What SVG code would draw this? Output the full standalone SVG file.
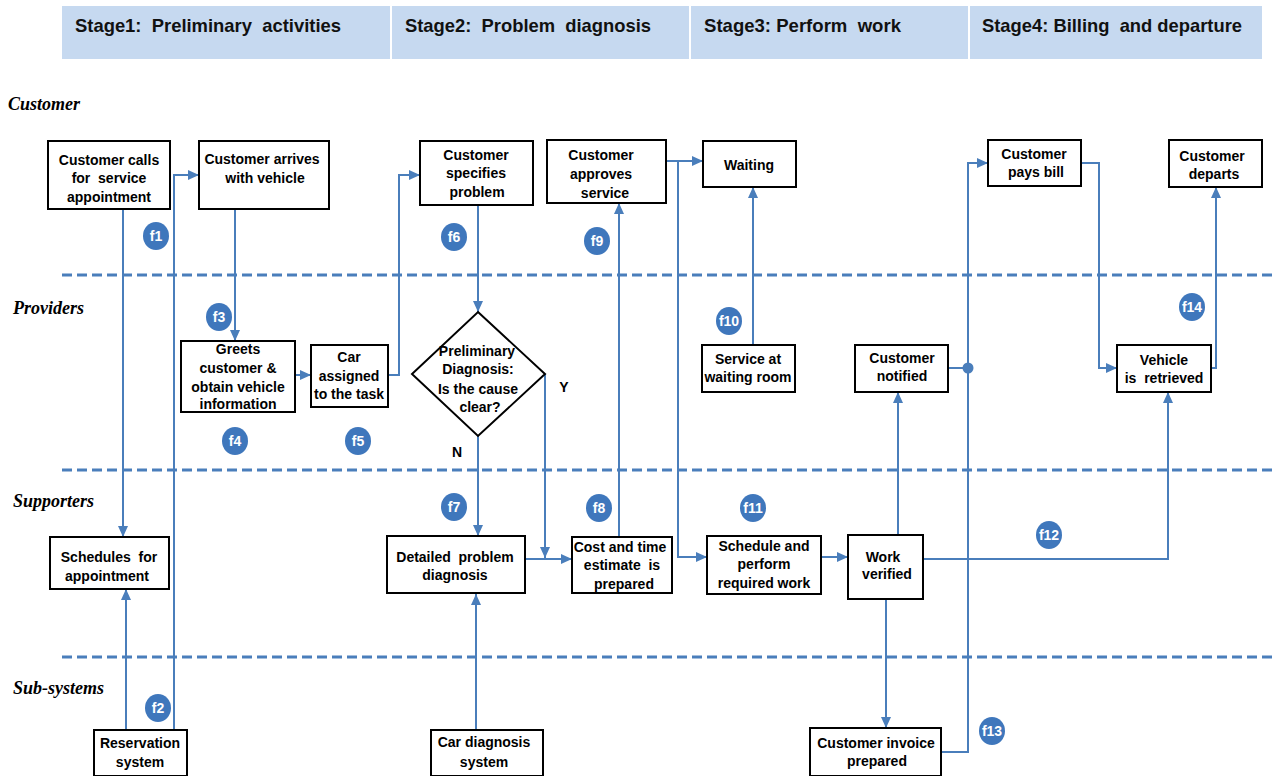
<svg xmlns="http://www.w3.org/2000/svg" width="1276" height="776" viewBox="0 0 1276 776">
<style>
.hdr{fill:#C6D9F0}
.ht{font-family:"Liberation Sans",Arial,sans-serif;font-weight:bold;font-size:19px;fill:#111;white-space:pre}
.lane{font-family:"Liberation Serif","Times New Roman",serif;font-weight:bold;font-style:italic;font-size:18px;fill:#000}
.sep{stroke:#4A7EBB;stroke-width:3;stroke-dasharray:10 5;fill:none}
.box{fill:#fff;stroke:#000;stroke-width:2}
.t{font-family:"Liberation Sans",Arial,sans-serif;font-weight:bold;font-size:14px;fill:#000;text-anchor:middle;white-space:pre}
.c{fill:none;stroke:#4A7EBB;stroke-width:2}
.a{marker-end:url(#arr)}
.b{fill:#3F77BC}
.bt{font-family:"Liberation Sans",Arial,sans-serif;font-weight:bold;font-size:14px;fill:#fff;text-anchor:middle}
</style>
<defs>
<marker id="arr" markerUnits="userSpaceOnUse" markerWidth="11" markerHeight="10" refX="11" refY="5" orient="auto">
<path d="M0,0 L11,5 L0,10 z" fill="#4A7EBB"/>
</marker>
</defs>
<rect width="1276" height="776" fill="#fff"/>
<g id="header">
<rect class="hdr" x="62" y="6" width="328" height="53"/>
<rect class="hdr" x="392" y="6" width="297" height="53"/>
<rect class="hdr" x="691" y="6" width="277" height="53"/>
<rect class="hdr" x="970" y="6" width="292" height="53"/>
<text class="ht" x="75" y="32" textLength="266" lengthAdjust="spacingAndGlyphs">Stage1:  Preliminary  activities</text>
<text class="ht" x="405" y="32" textLength="246" lengthAdjust="spacingAndGlyphs">Stage2:  Problem  diagnosis</text>
<text class="ht" x="704" y="32" textLength="197" lengthAdjust="spacingAndGlyphs">Stage3: Perform  work</text>
<text class="ht" x="982" y="32" textLength="260" lengthAdjust="spacingAndGlyphs">Stage4: Billing  and departure</text>
</g>
<g id="lanes">
<text class="lane" x="8" y="110">Customer</text>
<text class="lane" x="13" y="314">Providers</text>
<text class="lane" x="13" y="507">Supporters</text>
<text class="lane" x="13" y="694">Sub-systems</text>
<line class="sep" x1="62" y1="275" x2="1276" y2="275"/>
<line class="sep" x1="62" y1="470" x2="1276" y2="470"/>
<line class="sep" x1="62" y1="657" x2="1276" y2="657"/>
</g>
<g id="connectors">
<path class="c a" d="M123,209 V537"/>
<path class="c a" d="M126,730 V589"/>
<path class="c a" d="M174,730 V175 H199"/>
<path class="c a" d="M235,209 V341"/>
<path class="c a" d="M295,375 H311"/>
<path class="c a" d="M388,375 H399 V175 H420"/>
<path class="c a" d="M478,205 V312"/>
<path class="c a" d="M478,436 V536"/>
<path class="c a" d="M545,374 V558"/>
<path class="c a" d="M525,559 H572"/>
<path class="c a" d="M476,730 V594"/>
<path class="c a" d="M619,537 V203"/>
<path class="c a" d="M666,161 H703"/>
<path class="c a" d="M678,161 V557 H707"/>
<path class="c a" d="M753,345 V187"/>
<path class="c a" d="M821,557 H848"/>
<path class="c a" d="M898,535 V392"/>
<path class="c a" d="M886,599 V728"/>
<path class="c a" d="M923,559 H1168 V392"/>
<path class="c a" d="M941,752 H968 V163 H988"/>
<path class="c" d="M948,368 H968"/>
<circle cx="968" cy="368" r="5.5" fill="#4A7EBB"/>
<path class="c a" d="M1081,163 H1099 V368 H1117"/>
<path class="c a" d="M1211,368 H1216 V187"/>
</g>
<g id="n1"><rect class="box" x="48" y="141" width="122" height="68"/><text class="t" x="109" y="165">Customer calls</text><text class="t" x="109" y="183">for  service</text><text class="t" x="109" y="202">appointment</text></g>
<g id="n2"><rect class="box" x="199" y="141" width="130" height="68"/><text class="t" x="262" y="164">Customer arrives</text><text class="t" x="265" y="183">with vehicle</text></g>
<g id="n3"><rect class="box" x="181" y="341" width="114" height="71"/><text class="t" x="238" y="354">Greets</text><text class="t" x="238" y="373">customer &amp;</text><text class="t" x="238" y="392">obtain vehicle</text><text class="t" x="238" y="409">information</text></g>
<g id="n4"><rect class="box" x="311" y="345" width="77" height="62"/><text class="t" x="349" y="362">Car</text><text class="t" x="349" y="381">assigned</text><text class="t" x="349" y="399">to the task</text></g>
<g id="n5"><rect class="box" x="420" y="141" width="113" height="64"/><text class="t" x="476" y="160">Customer</text><text class="t" x="476" y="178">specifies</text><text class="t" x="477" y="197">problem</text></g>
<g id="n6"><rect class="box" x="547" y="140" width="119" height="63"/><text class="t" x="601" y="160">Customer</text><text class="t" x="601" y="179">approves</text><text class="t" x="605" y="198">service</text></g>
<g id="n7"><rect class="box" x="703" y="141" width="93" height="46"/><text class="t" x="749" y="170">Waiting</text></g>
<g id="n8"><polygon class="box" points="478,312 545,374 478,436 412,374"/><text class="t" x="477" y="356">Preliminary</text><text class="t" x="478" y="374">Diagnosis:</text><text class="t" x="478" y="394">Is the cause</text><text class="t" x="480" y="412">clear?</text></g>
<g id="lblY"><text class="t" x="564" y="392">Y</text></g>
<g id="lblN"><text class="t" x="457" y="457">N</text></g>
<g id="n9"><rect class="box" x="702" y="345" width="93" height="47"/><text class="t" x="748" y="364">Service at</text><text class="t" x="748" y="382">waiting room</text></g>
<g id="n10"><rect class="box" x="988" y="140" width="93" height="46"/><text class="t" x="1034" y="159">Customer</text><text class="t" x="1036" y="177">pays bill</text></g>
<g id="n11"><rect class="box" x="1169" y="140" width="93" height="47"/><text class="t" x="1212" y="161">Customer</text><text class="t" x="1214" y="179">departs</text></g>
<g id="n12"><rect class="box" x="855" y="345" width="93" height="47"/><text class="t" x="902" y="363">Customer</text><text class="t" x="902" y="381">notified</text></g>
<g id="n13"><rect class="box" x="1117" y="345" width="94" height="47"/><text class="t" x="1164" y="365">Vehicle</text><text class="t" x="1164" y="383">is  retrieved</text></g>
<g id="n14"><rect class="box" x="50" y="537" width="119" height="52"/><text class="t" x="109" y="562">Schedules  for</text><text class="t" x="107" y="581">appointment</text></g>
<g id="n15"><rect class="box" x="94" y="730" width="93" height="46"/><text class="t" x="140" y="748">Reservation</text><text class="t" x="140" y="767">system</text></g>
<g id="n16"><rect class="box" x="387" y="536" width="138" height="57"/><text class="t" x="455" y="562">Detailed  problem</text><text class="t" x="455" y="580">diagnosis</text></g>
<g id="n17"><rect class="box" x="572" y="537" width="100" height="56"/><text class="t" x="620" y="552">Cost and time</text><text class="t" x="622" y="570">estimate  is</text><text class="t" x="624" y="589">prepared</text></g>
<g id="n18"><rect class="box" x="707" y="536" width="114" height="58"/><text class="t" x="764" y="551">Schedule and</text><text class="t" x="764" y="569">perform</text><text class="t" x="764" y="588">required work</text></g>
<g id="n19"><rect class="box" x="431" y="730" width="112" height="46"/><text class="t" x="484" y="747">Car diagnosis</text><text class="t" x="484" y="767">system</text></g>
<g id="n20"><rect class="box" x="848" y="535" width="75" height="64"/><text class="t" x="883" y="562">Work</text><text class="t" x="887" y="579">verified</text></g>
<g id="n21"><rect class="box" x="810" y="728" width="131" height="48"/><text class="t" x="876" y="748">Customer invoice</text><text class="t" x="877" y="766">prepared</text></g>
<g id="badges">
<g id="f1"><ellipse class="b" cx="156" cy="236" rx="13" ry="14"/><text class="bt" x="156" y="241">f1</text></g>
<g id="f2"><ellipse class="b" cx="158" cy="708" rx="13" ry="14"/><text class="bt" x="158" y="713">f2</text></g>
<g id="f3"><ellipse class="b" cx="219" cy="317" rx="13" ry="14"/><text class="bt" x="219" y="322">f3</text></g>
<g id="f4"><ellipse class="b" cx="235" cy="441" rx="13" ry="14"/><text class="bt" x="235" y="446">f4</text></g>
<g id="f5"><ellipse class="b" cx="358" cy="441" rx="13" ry="14"/><text class="bt" x="358" y="446">f5</text></g>
<g id="f6"><ellipse class="b" cx="454" cy="237" rx="13" ry="14"/><text class="bt" x="454" y="242">f6</text></g>
<g id="f7"><ellipse class="b" cx="454" cy="507" rx="13" ry="14"/><text class="bt" x="454" y="512">f7</text></g>
<g id="f8"><ellipse class="b" cx="599" cy="508" rx="13" ry="14"/><text class="bt" x="599" y="513">f8</text></g>
<g id="f9"><ellipse class="b" cx="597" cy="241" rx="13" ry="14"/><text class="bt" x="597" y="246">f9</text></g>
<g id="f10"><ellipse class="b" cx="729" cy="321" rx="13" ry="14"/><text class="bt" x="729" y="326">f10</text></g>
<g id="f11"><ellipse class="b" cx="753" cy="508" rx="13" ry="14"/><text class="bt" x="753" y="513">f11</text></g>
<g id="f12"><ellipse class="b" cx="1049" cy="535" rx="13" ry="14"/><text class="bt" x="1049" y="540">f12</text></g>
<g id="f13"><ellipse class="b" cx="992" cy="731" rx="13" ry="14"/><text class="bt" x="992" y="736">f13</text></g>
<g id="f14"><ellipse class="b" cx="1192" cy="307" rx="13" ry="14"/><text class="bt" x="1192" y="312">f14</text></g>
</g>
</svg>
